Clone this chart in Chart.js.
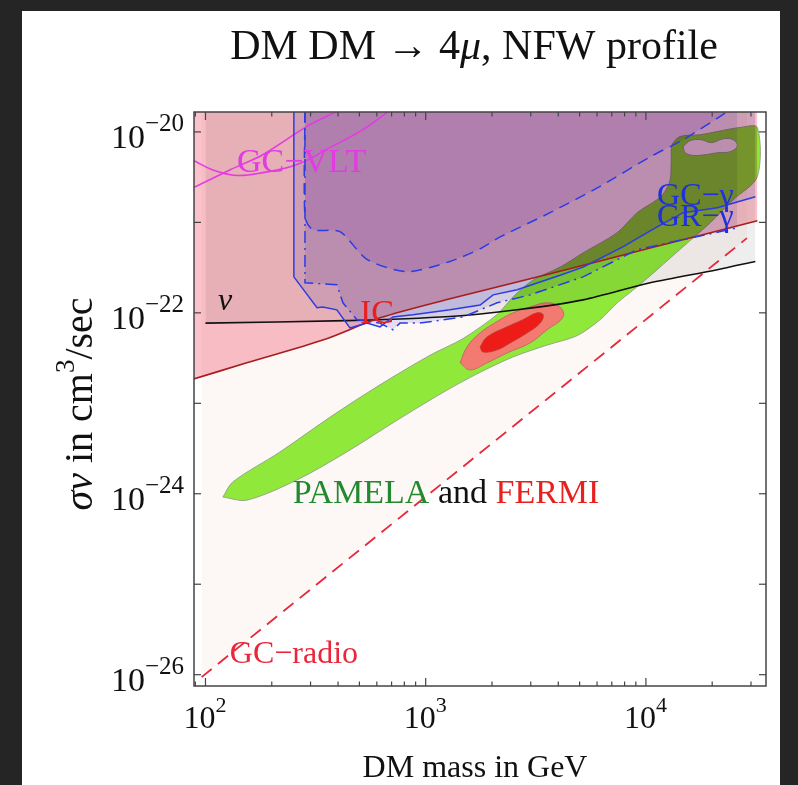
<!DOCTYPE html>
<html>
<head>
<meta charset="utf-8">
<title>DM DM → 4μ, NFW profile</title>
<script src="https://cdn.jsdelivr.net/npm/chart.js@4.4.1/dist/chart.umd.min.js"></script>
<style>
  html, body { margin: 0; padding: 0; background: #252525; }
  #panel { position: absolute; left: 22px; top: 11px; width: 758px; height: 774px; background: #fff; }
  #plot { display: block; }
</style>
</head>
<body>
<div id="panel"><canvas id="plot" width="758" height="774"></canvas></div>
<script>
// axis ranges: DM mass in GeV, sigma v in cm^3/s
const massRange = [88.7, 35100];
const sigmaRange = [7.5e-27, 1.66e-20];

const yTickExps = [-26, -25, -24, -23, -22, -21, -20];
const yLabelExps = [-26, -24, -22, -20];
const xLabelExps = [2, 3, 4];

// GC radio bound
const radioMass = [96, 28760];
const radioSigma = [9.4e-27, 6.7e-22];

// neutrino bound
const nuMass = [100, 438, 1290, 2601, 5185, 10450, 21080, 31400];
const nuSigma = [7.7e-23, 8.2e-23, 9.1e-23, 1.08e-22, 1.39e-22, 2.15e-22, 3.0e-22, 3.7e-22];

// inverse Compton bound
const icMass = [88.5, 154, 341, 620, 1290, 3673, 10450, 32060];
const icSigma = [1.86e-23, 2.8e-23, 5.0e-23, 8.8e-23, 1.43e-22, 2.7e-22, 5.2e-22, 1.04e-21];

// GC-VLT curves
const vltMassA = [87.5, 108, 139, 182, 260, 367, 519, 667];
const vltSigmaA = [4.9e-21, 3.8e-21, 3.3e-21, 3.55e-21, 4.35e-21, 6.7e-21, 1.06e-20, 1.64e-20];
const vltMassB = [87.5, 129, 182, 289, 395];
const vltSigmaB = [2.4e-21, 3.8e-21, 5.6e-21, 1.15e-20, 1.68e-20];

// GC gamma (solid)
const gcMass = [252, 252, 321, 341, 395, 453, 541, 620, 710, 875, 1290, 1766, 2024, 2601, 4077, 5185, 7889, 11240, 14770, 21080, 31400];
const gcSigma = [1.7e-20, 2.5e-22, 1.14e-22, 1.16e-22, 1.08e-22, 6.8e-23, 7.7e-23, 7.0e-23, 9.0e-23, 9.5e-23, 1.08e-22, 1.22e-22, 1.58e-22, 1.8e-22, 2.6e-22, 3.2e-22, 5.4e-22, 8.9e-22, 1.28e-21, 1.45e-21, 1.92e-21];

// GR gamma (dot-dashed)
const grMass = [283, 283, 395, 421, 487, 620, 710, 764, 942, 1478, 2110, 2976, 5185, 9128, 26000];
const grSigma = [1.7e-20, 2.15e-22, 2.04e-22, 1.29e-22, 8.4e-23, 7.7e-23, 6.5e-23, 7.7e-23, 7.7e-23, 9.0e-23, 1.29e-22, 1.58e-22, 2.5e-22, 5.0e-22, 8.7e-22];

// gamma bound, dashed
const dashMass = [283, 283, 307, 408, 541, 822, 1290, 1766, 2178, 3673, 6194, 10450, 14770, 22440, 23650];
const dashSigma = [1.7e-20, 1.15e-21, 8.3e-22, 7.9e-22, 3.9e-22, 2.85e-22, 3.7e-22, 5.1e-22, 6.9e-22, 1.28e-21, 2.5e-21, 5.3e-21, 8.2e-21, 1.56e-20, 1.7e-20];

// PAMELA region outline
const pamelaMass = [120, 154, 260, 438, 741, 1250, 1766, 2494, 3558, 4872, 6194, 7407, 9128, 11240, 14770, 19590, 24930, 32060,
  32060, 26790, 21080, 17650, 14310, 13150, 13030, 12890, 12100, 11240, 9128, 7407, 5185, 4077, 3073, 2494, 2110, 1478, 1047, 620, 367, 218, 133, 120];
const pamelaSigma = [9.2e-25, 8.5e-25, 1.42e-24, 2.9e-24, 6.5e-24, 1.4e-23, 2.2e-23, 3.26e-23, 4.4e-23, 5.6e-23, 8.4e-23, 1.29e-22, 1.94e-22, 3.0e-22, 5.4e-22, 9.9e-22, 1.78e-21, 3.2e-21,
  1.12e-20, 1.12e-20, 1.01e-20, 9.3e-21, 8.9e-21, 7.2e-21, 4.9e-21, 2.96e-21, 2.13e-21, 1.78e-21, 1.28e-21, 7.7e-22, 4.6e-22, 3.2e-22, 2.3e-22, 1.5e-22, 9.6e-23, 5.2e-23, 3.4e-23, 1.6e-23, 7.0e-24, 2.9e-24, 1.35e-24, 9.2e-25];
const holeMass = [14770, 15890, 17840, 19820, 22440, 24930, 26000, 24170, 21300, 18600, 16410, 15080, 14770];
const holeSigma = [6.9e-21, 8.0e-21, 8.2e-21, 7.6e-21, 8.4e-21, 8.2e-21, 7.0e-21, 6.05e-21, 5.9e-21, 5.6e-21, 5.5e-21, 5.9e-21, 6.9e-21];

// FERMI regions
const fermiOuterMass = [1432, 1541, 1766, 2178, 2494, 2976, 3558, 4077, 4207, 3558, 2976, 2342, 1900, 1590, 1432];
const fermiOuterSigma = [2.8e-23, 4.2e-23, 6.0e-23, 8.4e-23, 1.0e-22, 1.16e-22, 1.29e-22, 1.16e-22, 9.0e-23, 6.5e-23, 4.65e-23, 3.6e-23, 2.8e-23, 2.34e-23, 2.8e-23];
const fermiInnerMass = [1766, 1900, 2342, 2768, 3206, 3415, 3310, 2886, 2418, 2110, 1821, 1766];
const fermiInnerSigma = [4.2e-23, 5.4e-23, 7.0e-23, 8.4e-23, 1.0e-22, 9.5e-23, 7.7e-23, 6.0e-23, 4.65e-23, 3.9e-23, 3.7e-23, 4.2e-23];

const SERIF = "'Liberation Serif', 'Times New Roman', Times, serif";
const font = (size, style = '') => `${style} ${size}px ${SERIF}`.trim();

const pts = (ms, ss) => ms.map((m, i) => ({ x: m, y: ss[i] }));

function ds(data, o) {
  return Object.assign({
    data, pointRadius: 0, pointHoverRadius: 0, borderWidth: 0, fill: false, tension: 0,
    borderColor: 'transparent', backgroundColor: 'transparent'
  }, o);
}

// bottom layer first; the "multiply" ones are shaded exclusion regions
const layers = [
  ds(pts(radioMass, radioSigma), { fill: 'end', backgroundColor: '#fdf7f6', multiply: true }),
  ds(pts(pamelaMass, pamelaSigma), { fill: 'shape', backgroundColor: '#8fe83a', borderColor: '#93a884', borderWidth: 1, tension: 0.3 }),
  ds(pts(holeMass, holeSigma), { fill: 'shape', backgroundColor: '#fdf7f6', borderColor: '#93a884', borderWidth: 1, tension: 0.4 }),
  ds(pts(fermiOuterMass, fermiOuterSigma), { fill: 'shape', backgroundColor: '#f27a70', borderColor: '#c86a64', borderWidth: 1, tension: 0.4 }),
  ds(pts(fermiInnerMass, fermiInnerSigma), { fill: 'shape', backgroundColor: '#ee1c18', borderColor: '#c83a30', borderWidth: 1, tension: 0.4 }),
  ds(pts(nuMass, nuSigma), { fill: 'end', backgroundColor: '#eeeeee', multiply: true, tension: 0.3 }),
  ds(pts(icMass, icSigma), { fill: 'end', backgroundColor: '#fac2cb', multiply: true, tension: 0.3 }),
  ds(pts(gcMass, gcSigma), { fill: 'end', backgroundColor: '#e6e6fb', multiply: true }),
  ds(pts(grMass, grSigma), { fill: 'end', backgroundColor: '#e6e6fb', multiply: true }),
  ds(pts(dashMass, dashSigma), { fill: 'end', backgroundColor: '#f2e4fc', multiply: true, tension: 0.25 }),
  ds(pts(radioMass, radioSigma), { borderColor: '#e6283a', borderWidth: 1.8, borderDash: [13, 8] }),
  ds(pts(nuMass, nuSigma), { borderColor: '#111111', borderWidth: 1.6, tension: 0.3 }),
  ds(pts(icMass, icSigma), { borderColor: '#a81c1c', borderWidth: 1.6, tension: 0.3 }),
  ds(pts(vltMassA, vltSigmaA), { borderColor: '#e23be2', borderWidth: 1.6, tension: 0.4 }),
  ds(pts(vltMassB, vltSigmaB), { borderColor: '#e23be2', borderWidth: 1.6, tension: 0.3 }),
  ds(pts(gcMass, gcSigma), { borderColor: '#2c3be4', borderWidth: 1.5 }),
  ds(pts(grMass, grSigma), { borderColor: '#2c3be4', borderWidth: 1.5, borderDash: [12, 5, 2, 5] }),
  ds(pts(dashMass, dashSigma), { borderColor: '#2c3be4', borderWidth: 1.5, borderDash: [11, 7], tension: 0.25 }),
];
layers.forEach((d, i) => { d.order = layers.length - i; });

// text placed at (mass, sigma)
const notes = [
  { at: [139, 3.6e-21], parts: [['GC−VLT', 34, '#e23be2']] },
  { at: [114, 1.08e-22], parts: [['ν', 32, '#111111', 'italic']] },
  { at: [503, 7.7e-23], parts: [['IC', 34, '#e8201e']] },
  { at: [11240, 1.57e-21], parts: [['GC−γ', 32, '#1f30dc']] },
  { at: [11240, 9.2e-22], parts: [['GR−γ', 32, '#1f30dc']] },
  { at: [249, 7.9e-25], parts: [['PAMELA', 34, '#23892f'], [' and ', 34, '#111111'], ['FERMI', 34, '#e8201e']] },
  { at: [129, 1.33e-26], parts: [['GC−radio', 32, '#e8283a']] },
];

// the fill of a dataset is painted in the filler's beforeDatasetDraw,
// so the blend mode for each dataset is set once the previous one is done
function setBlend(chart, meta) {
  const d = meta && chart.data.datasets[meta.index];
  chart.ctx.globalCompositeOperation = d && d.multiply ? 'multiply' : 'source-over';
}
const blendPlugin = {
  id: 'blend',
  beforeDatasetsDraw(chart) {
    const metas = chart.getSortedVisibleDatasetMetas();
    setBlend(chart, metas[metas.length - 1]);
  },
  afterDatasetDraw(chart, args) {
    const metas = chart.getSortedVisibleDatasetMetas();
    setBlend(chart, metas[metas.indexOf(args.meta) - 1]);
  },
  afterDatasetsDraw(chart) {
    chart.ctx.globalCompositeOperation = 'source-over';
  }
};

function runs(ctx, x, y, parts) {
  let cx = x;
  parts.forEach(([t, size, color, style, dy]) => {
    ctx.font = font(size, style);
    ctx.fillStyle = color;
    ctx.fillText(t, cx, y + (dy || 0));
    cx += ctx.measureText(t).width;
  });
  return cx - x;
}
function runsWidth(ctx, parts) {
  return parts.reduce((w, [t, size, , style]) => { ctx.font = font(size, style); return w + ctx.measureText(t).width; }, 0);
}
function power(ctx, x, y, exp, align, big, small) {
  const parts = [['10', big, '#111111'], [String(exp).replace('-', '−'), small, '#111111', '', -Math.round(big * 0.5)]];
  const w = runsWidth(ctx, parts) + 1;
  runs(ctx, align === 'right' ? x - w : x - w / 2, y, parts);
}

const framePlugin = {
  id: 'frame',
  beforeDraw(chart) {
    const ctx = chart.ctx;
    ctx.save();
    ctx.fillStyle = '#ffffff';
    ctx.fillRect(0, 0, chart.width, chart.height);
    ctx.restore();
  },
  afterDraw(chart) {
    const { ctx, chartArea: a } = chart;
    const xs = chart.scales.x, ys = chart.scales.y;
    const seg = (x1, y1, x2, y2) => { ctx.beginPath(); ctx.moveTo(x1, y1); ctx.lineTo(x2, y2); ctx.stroke(); };
    ctx.save();
    ctx.textBaseline = 'alphabetic';
    ctx.textAlign = 'left';

    notes.forEach(n => {
      runs(ctx, xs.getPixelForValue(n.at[0]), ys.getPixelForValue(n.at[1]), n.parts);
    });

    // frame with inward ticks on all sides
    ctx.strokeStyle = '#444444';
    ctx.lineWidth = 1.5;
    ctx.strokeRect(a.left, a.top, a.right - a.left, a.bottom - a.top);
    ctx.lineWidth = 1.2;
    yTickExps.forEach(e => {
      const y = ys.getPixelForValue(Math.pow(10, e));
      seg(a.left, y, a.left + 7, y);
      seg(a.right, y, a.right - 7, y);
    });
    for (let d = 1; d <= 4; d++) {
      for (let k = 1; k <= 9; k++) {
        const m = k * Math.pow(10, d);
        if (m < xs.min || m > xs.max) continue;
        const x = xs.getPixelForValue(m);
        const len = k === 1 ? 8 : 4.5;
        seg(x, a.bottom, x, a.bottom - len);
        seg(x, a.top, x, a.top + len);
      }
    }

    yLabelExps.forEach(e => power(ctx, a.left - 9, ys.getPixelForValue(Math.pow(10, e)) + 16, e, 'right', 34, 25));
    xLabelExps.forEach(e => power(ctx, xs.getPixelForValue(Math.pow(10, e)), a.bottom + 42, e, 'center', 32, 22));

    // title
    const title = [['DM DM → 4', 42, '#111111'], ['μ', 42, '#111111', 'italic'], [', NFW profile', 42, '#111111']];
    const cx = (a.left + a.right) / 2 - 6;
    runs(ctx, cx - runsWidth(ctx, title) / 2, 48, title);

    // axis titles
    const xTitle = [['DM mass in GeV', 32, '#111111']];
    runs(ctx, cx + 1 - runsWidth(ctx, xTitle) / 2, 766, xTitle);

    const yTitle = [['σv', 40, '#111111', 'italic'], [' in cm', 40, '#111111'], ['3', 27, '#111111', '', -18], ['/sec', 40, '#111111']];
    ctx.translate(70, (a.top + a.bottom) / 2 + 5);
    ctx.rotate(-Math.PI / 2);
    runs(ctx, -runsWidth(ctx, yTitle) / 2, 0, yTitle);
    ctx.restore();
  }
};

new Chart(document.getElementById('plot'), {
  type: 'line',
  data: { datasets: layers },
  options: {
    responsive: false,
    animation: false,
    events: [],
    layout: { padding: { left: 172, top: 101, right: 14, bottom: 99 } },
    plugins: { legend: { display: false }, title: { display: false }, tooltip: { enabled: false } },
    scales: {
      x: { type: 'logarithmic', min: massRange[0], max: massRange[1], display: false },
      y: { type: 'logarithmic', min: sigmaRange[0], max: sigmaRange[1], display: false }
    }
  },
  plugins: [blendPlugin, framePlugin]
});
</script>
</body>
</html>
